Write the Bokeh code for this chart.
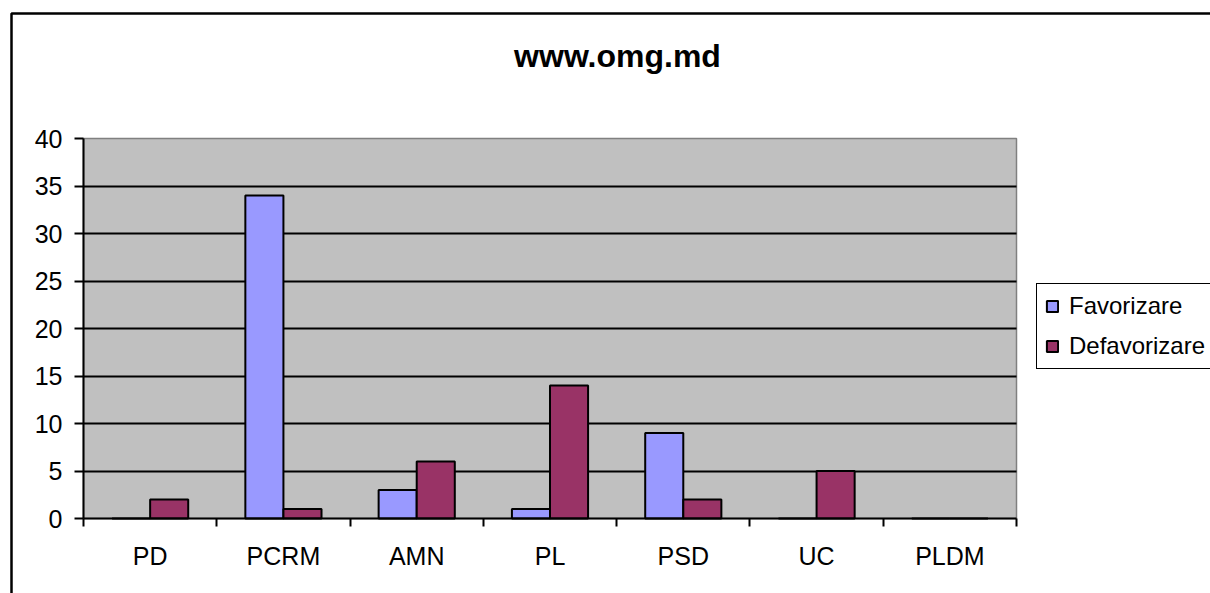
from bokeh.plotting import figure
from bokeh.models import (FixedTicker, Legend, LegendItem, Label, BoxAnnotation,
                          ColumnDataSource, Range1d, Grid, LinearAxis)
from bokeh.embed import file_html
from bokeh.resources import INLINE

categories = ["PD", "PCRM", "AMN", "PL", "PSD", "UC", "PLDM"]
favorizare = [0, 34, 3, 1, 9, 0, 0]
defavorizare = [2, 1, 6, 14, 2, 5, 0]
y_ticks = [0, 5, 10, 15, 20, 25, 30, 35, 40]
title_text = "www.omg.md"
series_names = ["Favorizare", "Defavorizare"]
colors = ["#9999FF", "#993366"]

FONT = "Liberation Sans"
W, H = 1210, 593
n = len(categories)
idx = list(range(n))
bw = 0.2857
ymax = 40

# plot area in canvas pixels
PL_L, PL_R, PL_T, PL_B = 83, 1016, 138, 518
sx = (PL_R - PL_L) / n          # px per category
sy = (PL_B - PL_T) / ymax       # px per unit
x0 = -0.5 - PL_L / sx
x1 = n - 0.5 + (W - PL_R) / sx
y1 = ymax + PL_T / sy
y0 = -(H - PL_B) / sy

def dx(px):
    return -0.5 + (px - PL_L) / sx

def dy(py):
    return ymax - (py - PL_T) / sy

src = ColumnDataSource(dict(
    xf=[i - bw / 2 for i in idx],
    xd=[i + bw / 2 for i in idx],
    fav=favorizare,
    defa=defavorizare,
))

p = figure(width=W, height=H, output_backend="svg", toolbar_location=None,
           x_range=Range1d(x0, x1), y_range=Range1d(y0, y1),
           x_axis_type=None, y_axis_type=None, min_border=0)
p.outline_line_color = None
p.background_fill_color = "white"
p.border_fill_color = "white"

# plot area background
p.add_layout(BoxAnnotation(left=-0.5, right=n - 0.5, bottom=0, top=ymax,
                           fill_color="#C0C0C0", fill_alpha=1,
                           line_color="#808080", line_alpha=1, line_width=1.5,
                           level="image"))

# horizontal grid lines
grid = Grid(dimension=1, ticker=FixedTicker(ticks=y_ticks[1:-1]),
            cross_bounds=(-0.5, n - 0.5), grid_line_color="black",
            grid_line_width=2)
p.add_layout(grid)

r1 = p.vbar(x="xf", top="fav", width=bw, source=src, fill_color=colors[0],
            line_color="black", line_width=2)
r2 = p.vbar(x="xd", top="defa", width=bw, source=src, fill_color=colors[1],
            line_color="black", line_width=2)

# y axis
ya = LinearAxis(fixed_location=-0.5, bounds=(0, ymax),
                ticker=FixedTicker(ticks=y_ticks))
ya.axis_line_color = "black"
ya.axis_line_width = 2
ya.major_tick_line_width = 2
ya.major_tick_out = 9
ya.major_tick_in = 0
ya.minor_tick_line_color = None
ya.major_label_text_font = FONT
ya.major_label_text_font_size = "25px"
ya.major_label_text_color = "black"
ya.major_label_standoff = 12
p.add_layout(ya, "left")

# x axis
xa = LinearAxis(fixed_location=0, bounds=(-0.5, n - 0.5),
                ticker=FixedTicker(ticks=idx,
                                   minor_ticks=[i - 0.5 for i in range(n + 1)]))
xa.major_label_overrides = {i: c for i, c in enumerate(categories)}
xa.axis_line_color = "black"
xa.axis_line_width = 2
xa.major_tick_line_color = None
xa.major_tick_out = 0
xa.major_tick_in = 0
xa.minor_tick_out = 8
xa.minor_tick_in = 0
xa.minor_tick_line_width = 2
xa.minor_tick_line_color = "black"
xa.major_label_text_font = FONT
xa.major_label_text_font_size = "25px"
xa.major_label_text_color = "black"
xa.major_label_standoff = 15
p.add_layout(xa, "below")

# title
p.add_layout(Label(x=dx(617), y=dy(55), text=title_text, text_font=FONT,
                   text_font_size="32px", text_font_style="bold",
                   text_align="center", text_baseline="alphabetic",
                   text_color="black"))

# outer chart frame
p.add_layout(BoxAnnotation(left=dx(11), right=dx(1300), top=dy(13), bottom=dy(700),
                           fill_alpha=0, line_color="black", line_alpha=1,
                           line_width=2.5, level="overlay"))

legend = Legend(items=[LegendItem(label=series_names[0], renderers=[r1]),
                       LegendItem(label=series_names[1], renderers=[r2])],
                location=(1036, H - 369))
legend.label_text_font = FONT
legend.label_text_font_size = "24px"
legend.label_text_color = "black"
legend.glyph_width = 14
legend.glyph_height = 14
legend.label_standoff = 10
legend.padding = 8
legend.spacing = 12
legend.label_height = 28
legend.border_line_color = "black"
legend.border_line_alpha = 1
legend.border_line_width = 1.5
legend.background_fill_color = "white"
legend.background_fill_alpha = 1
p.add_layout(legend)

open("out.html", "w").write(file_html(p, INLINE))
